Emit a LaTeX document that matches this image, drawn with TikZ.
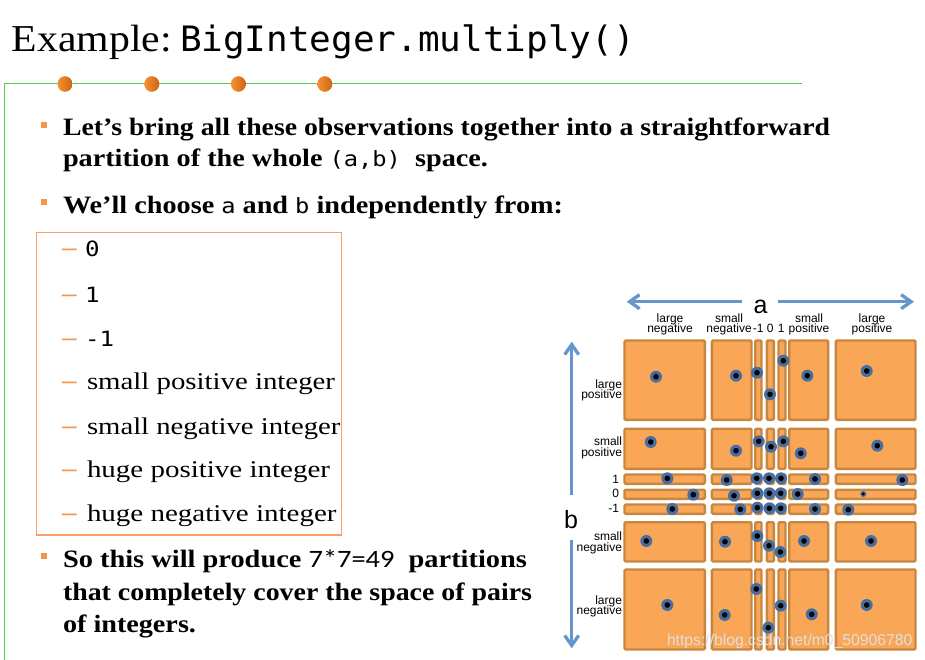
\documentclass[tikz,border=0pt]{standalone}
\usepackage{fontspec}
\usepackage{graphicx}
\setmainfont{Liberation Serif}
\setsansfont{Liberation Sans}
\setmonofont{DejaVu Sans Mono}
\newfontfamily\calib{Carlito}
\usetikzlibrary{arrows.meta}
\definecolor{gline}{RGB}{85,205,75}
\definecolor{dotl}{RGB}{248,145,50}
\definecolor{dotr}{RGB}{205,100,20}
\definecolor{bulletor}{RGB}{247,150,70}
\definecolor{listedge}{RGB}{247,160,105}
\definecolor{boxfill}{RGB}{249,166,86}
\definecolor{boxedge}{RGB}{200,135,65}
\definecolor{arrowblue}{RGB}{100,150,205}
\definecolor{dotblue}{RGB}{72,110,160}
\newcommand\fitto[2]{\resizebox{#1pt}{\height}{#2}}
\newcommand\bodyb{\fontsize{25}{30}\selectfont\bfseries}
\newcommand\bodyr{\fontsize{24}{30}\selectfont}
\newcommand\cod[1]{{\fontsize{21}{24}\selectfont\mdseries\ttfamily #1}}
\newcommand\listcode[1]{\scalebox{1.15}[1]{\fontsize{21}{24}\selectfont\ttfamily #1}}
\begin{document}
\begin{tikzpicture}[x=1pt,y=-1pt,
  txt/.style={anchor=base west, inner sep=0pt, outer sep=0pt},
  lbl/.style={inner sep=0pt, outer sep=0pt, anchor=base, font=\fontsize{12}{12}\selectfont\sffamily},
  rlbl/.style={lbl, anchor=base east},
  cell/.style={draw=boxedge, line width=2.4pt, fill=boxfill, rounded corners=1.2pt},
  blu/.style={draw=arrowblue, line width=3.3pt, -{Straight Barb[length=10pt,width=14pt]}},
  dashmark/.style={txt, text=bulletor}]
\useasboundingbox (0,0) rectangle (925,660);
% header
\draw[gline, line width=1.3pt] (4.3,660) -- (4.3,83.7) -- (801.7,83.7);
\foreach \x in {65,151.8,238.4,324.8}
  \shade[left color=dotl, right color=dotr] (\x,84) ellipse (7.5pt and 7.8pt);
\node[txt] (t1) at (12,52) {\fitto{160}{\fontsize{38}{40}\selectfont Example:}};
\node[txt] (t2) at (180,52) {\fitto{455}{\fontsize{35}{40}\selectfont\ttfamily BigInteger.multiply()}};
% bullets
\foreach \y in {125,202.5,556}
  \fill[bulletor] (40.5,\y-3) rectangle (46.5,\y+3);
\node[txt] (b1a) at (63,136) {\fitto{767}{\bodyb Let’s bring all these observations together into a straightforward}};
\node[txt] (b1b) at (63,166.7) {\fitto{425}{\bodyb partition of the whole \cod{(a,b)}~ space.}};
\node[txt] (b2) at (63,213.5) {\fitto{500}{\bodyb We’ll choose \cod{a} and \cod{b} independently from:}};
% list box
\draw[listedge, line width=1.3pt] (36.7,232.3) rectangle (341.7,535);
\foreach \y/\n in {256.7/1,302.3/2,346.7/3,389.3/4,434/5,477.3/6,521.7/7}
  \node[dashmark] (d\n) at (62.2,\y-1) {\fitto{14.5}{\bodyr\bfseries –}};
\node[txt] (i1) at (85,256.7) {\listcode{0}};
\node[txt] (i2) at (85,302.3) {\listcode{1}};
\node[txt] (i3) at (85,346.7) {\listcode{-1}};
\node[txt] (i4) at (87,389.3) {\fitto{248}{\bodyr small positive integer}};
\node[txt] (i5) at (87,434) {\fitto{253.5}{\bodyr small negative integer}};
\node[txt] (i6) at (87,477.3) {\fitto{243}{\bodyr huge positive integer}};
\node[txt] (i7) at (87,521.7) {\fitto{249.5}{\bodyr huge negative integer}};
% bullet 3
\node[txt] (b3a) at (63,567) {\fitto{464}{\bodyb So this will produce {\calib\mdseries 7*7=49}~ partitions}};
\node[txt] (b3b) at (63,600) {\fitto{469}{\bodyb that completely cover the space of pairs}};
\node[txt] (b3c) at (63,632) {\fitto{133}{\bodyb of integers.}};
% grid of partitions
\foreach \xa/\xb in {623.3/706,710.7/752.7,754/762.7,765.7/775,777.3/786.7,788/829.3,834.7/916.7}
  \foreach \ya/\yb in {339.3/421,427.5/470,473.3/485,488.5/500,503.3/515,521/562.7,568.3/650.7}
    \draw[cell] (\xa+1.2,\ya+1.2) rectangle (\xb-1.2,\yb-1.2);
\foreach \x/\y in {656/376.7,736/375.7,757/372.7,770/394.3,783.3/360.7,807.3/375.7,866.7/371,
  650.7/442,736/450.7,758.7/441.3,771/446.7,783.3/441.3,800.7/453.3,877.3/445.7,
  667.3/478.3,726.7/480,756.7/478.3,769/478.3,781/478.3,815/479,902.3/480,
  693.3/494.7,734/495.7,757.3/493.3,769.3/493.3,780.7/493.3,797.7/494,
  672.3/509,740.3/509.3,757.3/507.7,769.3/508.3,780.7/508.3,815/509,848.3/509.7,
  646.3/541,725/541.7,757.3/536,769/545.7,780.3/552,804/541,871/541,
  667.3/605,724.7/615,756.3/589,768.3/627.7,780.7/605.7,811.7/614.3,866.7/605}
{
  \fill[dotblue] (\x,\y) circle (6pt);
  \fill[black] (\x,\y) circle (2.8pt);
}
\fill[dotblue] (863.3,494) circle (3pt);
\fill[black] (863.3,494) circle (1.6pt);
% axes
\coordinate (aLtail) at (741.7,301.7);
\coordinate (aLtip) at (626.7,301.7);
\coordinate (aRtail) at (778.3,301.7);
\coordinate (aRtip) at (914,301.7);
\coordinate (bUtail) at (571.7,495);
\coordinate (bUtip) at (571.7,341.7);
\coordinate (bDtail) at (571.7,540);
\coordinate (bDtip) at (571.7,648.3);
\draw[blu] (aLtail) -- (aLtip);
\draw[blu] (aRtail) -- (aRtip);
\draw[blu] (bUtail) -- (bUtip);
\draw[blu] (bDtail) -- (bDtip);
\node[lbl, font=\fontsize{25}{25}\selectfont\sffamily] (alab) at (760.5,313) {a};
\node[lbl, font=\fontsize{25}{25}\selectfont\sffamily] (blab) at (571,528) {b};
% column labels
\node[lbl] (c1a) at (670,322) {large};
\node[lbl] (c1b) at (670,332.5) {negative};
\node[lbl] (c2a) at (729,322) {small};
\node[lbl] (c2b) at (729,332.5) {negative};
\node[lbl] (c3) at (758.3,332.5) {-1};
\node[lbl] (c4) at (770.3,332.5) {0};
\node[lbl] (c5) at (781.3,332.5) {1};
\node[lbl] (c6a) at (809,322) {small};
\node[lbl] (c6b) at (809,332.5) {positive};
\node[lbl] (c7a) at (872,322) {large};
\node[lbl] (c7b) at (872,332.5) {positive};
% row labels
\node[rlbl] (r1a) at (622,388) {large};
\node[rlbl] (r1b) at (622,398.5) {positive};
\node[rlbl] (r2a) at (622,445.5) {small};
\node[rlbl] (r2b) at (622,456) {positive};
\node[rlbl] (r3) at (619,483.3) {1};
\node[rlbl] (r4) at (619,497.3) {0};
\node[rlbl] (r5) at (619,512.7) {-1};
\node[rlbl] (r6a) at (622,540.7) {small};
\node[rlbl] (r6b) at (622,551) {negative};
\node[rlbl] (r7a) at (622,604) {large};
\node[rlbl] (r7b) at (622,614.3) {negative};
% watermark
\node[txt, text=white!88!black, font=\fontsize{15.7}{16}\selectfont\sffamily] (wm) at (667,645.3) {https://blog.csdn.net/m0\_50906780};
\end{tikzpicture}
\end{document}
